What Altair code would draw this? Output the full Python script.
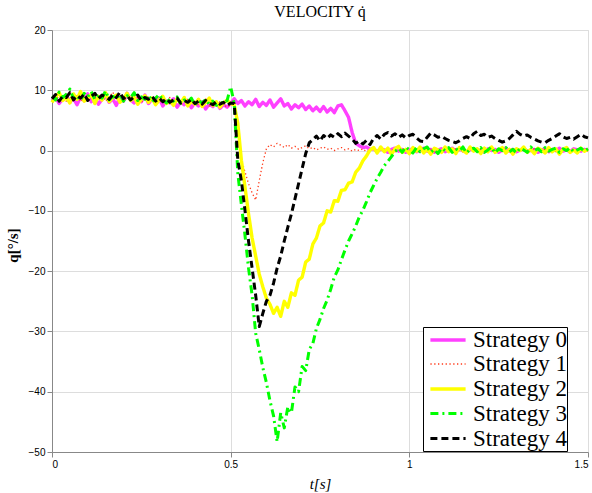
import altair as alt
import pandas as pd

series_names = ["Strategy 0", "Strategy 1", "Strategy 2", "Strategy 3", "Strategy 4"]
series_colors = ["#ff40ff", "#ff3a1a", "#ffff00", "#00ff00", "#000000"]
series_dash = [[1, 0], [1.3, 2.5], [1, 0], [8, 4, 2, 4], [7, 4]]
series_width = [3.4, 1.3, 3.4, 3.0, 3.0]

x_ticks = [0, 0.5, 1, 1.5]
y_ticks = [-50, -40, -30, -20, -10, 0, 10, 20]

# sampled every 0.01 s from 0.00 to 1.50
s0 = [8.2, 8.9, 7.8, 8.6, 9.2, 8.0, 8.7, 7.6, 8.9, 8.3,
      9.4, 8.1, 8.8, 7.7, 8.5, 9.1, 8.0, 8.6, 7.5, 8.9,
      8.2, 9.5, 8.4, 7.9, 8.8, 8.1, 9.2, 7.8, 8.5, 8.0,
      8.7, 7.4, 8.2, 7.9, 8.6, 7.2, 8.0, 7.6, 8.3, 7.1,
      7.9, 7.4, 8.1, 6.9, 7.7, 7.3, 8.0, 7.0, 7.6, 7.2,
      7.8,
      8.6, 7.8, 8.3, 7.4, 8.1, 7.6, 8.5, 7.3, 8.0, 7.5,
      8.4, 7.2, 7.9, 8.6, 7.4, 7.8, 6.9, 7.6, 7.1, 7.7,
      6.8, 7.4, 6.6, 7.2, 6.5, 7.3, 6.4, 7.0, 6.3, 7.4,
      7.6, 6.6, 5.5, 3.0, 1.2, 0.8, 0.5, 0.6, 0.2, 0.3,
      -0.2, 0.3, 0.1, -0.3, 0.2, 0.4, -0.1, 0.2, -0.3, 0.1,
      0.3, -0.2, 0.0, 0.4, -0.1, 0.2, -0.3, 0.1, 0.3, -0.2,
      0.1, 0.4, -0.1, 0.2, 0.0, -0.3, 0.2, 0.3, -0.1, 0.1,
      -0.2, 0.3, 0.0, 0.2, -0.3, 0.1, 0.4, -0.1, 0.2, -0.2,
      0.1, 0.3, -0.1, 0.0, 0.2, -0.3, 0.1, 0.3, -0.2, 0.2,
      0.0, 0.4, -0.1, 0.1, -0.2, 0.3, 0.1, -0.1, 0.2, 0.0]

s1 = [8.8, 8.3, 9.1, 8.6, 8.2, 9.0, 8.5, 9.3, 8.1, 8.7,
      9.2, 8.4, 8.9, 8.6, 9.4, 8.2, 8.8, 9.7, 8.5, 8.9,
      8.3, 8.7, 9.1, 8.4, 8.8, 8.0, 8.6, 9.0, 8.3, 8.7,
      7.9, 8.5, 8.2, 8.8, 7.8, 8.3, 7.6, 8.1, 8.5, 7.7,
      8.2, 7.5, 8.0, 8.6, 7.4, 7.9, 7.3, 8.1, 7.6, 7.2,
      7.7,
      7.5, 3.0, -1.5, -3.5, -5.5, -7.0, -8.2, -5.0, -2.0, 0.3,
      1.0, 0.6, 1.2, 0.9, 0.5, 1.0, 0.4, 0.7, 0.2, 0.5,
      0.8, 0.3, 0.5, 0.1, 0.4, 0.6, 0.2, 0.4, 0.0, 0.3,
      0.5, 0.1, 0.3, -0.1, 0.2, 0.0, 0.3, -0.2, 0.1, 0.2,
      0.0, 0.2, -0.1, 0.1, 0.3, -0.2, 0.0, 0.2, 0.1, -0.1,
      0.2, 0.0, 0.3, -0.1, 0.1, 0.2, -0.2, 0.1, 0.0, 0.2,
      -0.1, 0.1, 0.3, 0.0, -0.2, 0.1, 0.2, -0.1, 0.0, 0.2,
      0.1, -0.1, 0.2, 0.0, 0.1, -0.2, 0.2, 0.1, 0.0, -0.1,
      0.2, 0.1, -0.1, 0.0, 0.3, 0.1, -0.1, 0.2, 0.0, 0.1,
      -0.2, 0.1, 0.2, 0.0, -0.1, 0.1, 0.2, 0.0, 0.1, -0.1]

s2 = [8.0, 8.9, 9.6, 8.3, 8.8, 7.9, 9.4, 8.5, 9.8, 8.2,
      8.7, 9.3, 7.8, 9.0, 8.4, 9.6, 8.1, 8.8, 9.2, 8.0,
      8.6, 9.5, 8.3, 8.9, 7.7, 8.5, 9.1, 8.0, 8.7, 7.6,
      8.4, 9.0, 7.8, 8.3, 7.5, 8.6, 7.9, 8.8, 7.4, 8.2,
      7.7, 8.5, 7.3, 8.0, 8.7, 7.5, 8.1, 7.2, 7.9, 8.4,
      7.8,
      7.6, 4.5, -1.6, -6.0, -10.5, -14.5, -17.5, -20.5, -22.6, -24.5,
      -25.5, -27.0, -26.0, -27.5, -25.0, -26.0, -23.6, -24.0, -21.5, -21.0,
      -18.5, -18.0, -15.5, -14.5, -12.5, -12.0, -10.0, -10.2, -8.3, -8.4,
      -6.6, -6.5, -5.4, -5.2, -3.6, -2.9, -1.7, -0.9, 0.1, 0.5,
      -0.4, 0.6, -0.2, 0.4, -0.6, 0.3, 0.7, -0.3, 0.2, -0.5,
      0.5, -0.1, 0.6, -0.4, 0.2, -0.6, 0.4, 0.1, -0.3, 0.6,
      -0.2, 0.3, -0.5, 0.5, 0.0, -0.4, 0.6, -0.1, 0.3, -0.5,
      0.4, -0.2, 0.6, -0.3, 0.1, 0.5, -0.4, 0.2, -0.6, 0.3,
      0.0, 0.6, -0.3, 0.2, -0.5, 0.4, 0.1, -0.4, 0.5, -0.2,
      0.3, -0.6, 0.2, 0.5, -0.3, 0.1, -0.4, 0.4, -0.1, 0.2]

s3 = [9.0, 8.4, 9.7, 8.8, 9.3, 10.2, 8.6, 9.1, 8.3, 9.5,
      8.9, 9.8, 8.5, 9.2, 8.7, 9.9, 8.4, 9.0, 8.6, 9.4,
      8.2, 9.1, 8.8, 9.6, 8.3, 8.9, 8.5, 9.2, 8.1, 8.7,
      9.3, 8.4, 7.9, 8.6, 8.2, 8.9, 7.8, 8.4, 8.1, 8.7,
      7.6, 8.3, 7.9, 8.5, 7.7, 8.2, 7.5, 8.0, 7.8, 8.3,
      10.6,
      7.8, -3.8, -9.0, -14.0, -19.5, -24.0, -30.3, -33.0, -36.0, -38.5,
      -41.5, -44.0, -48.3, -43.5, -46.0, -42.5, -43.5, -39.2, -40.0, -35.8,
      -36.5, -33.0, -32.0, -29.5, -28.0, -26.2, -24.8, -23.0, -21.0, -19.8,
      -18.1, -16.5, -15.0, -13.8, -12.5, -11.0, -9.9, -8.5, -7.0, -5.8,
      -4.6, -3.6, -2.5, -1.8, -1.0, -0.2, 0.4, -0.3, 0.6,
      0.1, -0.4, 0.5, -0.2, 0.3, 0.6, -0.3, 0.2, -0.5, 0.4,
      0.0, 0.5, -0.3, 0.3, -0.1, 0.6, -0.4, 0.2, 0.4, -0.2,
      0.5, -0.3, 0.1, 0.6, -0.4, 0.3, 0.0, 0.5, -0.2, 0.2,
      -0.4, 0.4, 0.1, -0.3, 0.6, 0.0, 0.3, -0.2, 0.5, -0.1,
      0.2, 0.4, -0.3, 0.3, 0.0, 0.5, -0.2, 0.1, 0.4, -0.1,
      0.3]

s4 = [8.6, 9.3, 8.2, 9.0, 8.8, 9.6, 8.4, 9.1, 8.7, 9.4,
      8.3, 9.0, 9.5, 8.6, 9.2, 8.9, 8.5, 9.3, 8.8, 9.7,
      8.6, 9.1, 8.4, 8.9, 9.2, 8.3, 8.8, 8.5, 9.0, 8.2,
      8.7, 8.1, 8.6, 8.0, 8.4, 8.7, 7.9, 8.3, 8.0, 8.5,
      7.8, 8.2, 7.7, 8.3, 7.9, 7.6, 8.1, 7.7, 8.0, 7.5,
      7.9,
      7.8, -1.6, -5.0, -9.9, -15.0, -19.5, -24.0, -29.2, -27.0, -25.0,
      -24.0, -22.0, -19.5, -17.5, -15.0, -12.7, -10.5, -8.0, -5.5, -3.0,
      -0.5, 1.3, 1.8, 2.4, 1.6, 2.5, 2.0, 2.6, 2.2, 2.8,
      2.3, 2.9, 2.4, 1.9, 1.2, 1.6, 1.1, 1.7, 1.0, 2.0,
      2.5, 1.9, 2.7, 3.0, 2.4, 2.8, 2.2, 2.6, 2.1, 2.5,
      2.7, 2.1, 1.6, 1.5, 2.2, 2.9, 2.6, 2.2, 2.4, 2.0,
      1.7, 1.5, 1.3, 1.6, 2.0, 2.3, 2.0, 2.8, 3.2, 2.5,
      2.7, 2.2, 2.4, 2.0, 1.7, 1.4, 1.6, 2.0, 2.6, 3.2,
      2.7, 2.4, 2.6, 2.2, 1.9, 1.6, 1.4, 1.3, 1.7, 2.0,
      2.4, 2.8, 2.3, 2.0, 2.2, 1.9, 2.3, 2.7, 2.3, 2.1]

all_series = [s0, s1, s2, s3, s4]
for s in all_series:
    assert len(s) == 151, len(s)

rows = []
for name, vals in zip(series_names, all_series):
    for i, v in enumerate(vals):
        rows.append({"t": round(i * 0.01, 2), "q": v, "series": name})
df = pd.DataFrame(rows)

legend_props = dict(
    title=None, orient="none", legendX=371, legendY=297,
    fillColor="white", strokeColor="black", padding=0,
    labelFont="Liberation Serif", labelFontSize=23, labelColor="black",
    symbolType="M-1.6,0H1.6", symbolSize=484, symbolOffset=12,
    rowPadding=0, labelOffset=12,
)

base = alt.Chart(df).mark_line(strokeCap="butt", strokeJoin="round").encode(
    x=alt.X("t:Q", scale=alt.Scale(domain=[0, 1.5], nice=False),
            axis=alt.Axis(values=x_ticks, format="~g", title="t[s]",
                          titleFont="Liberation Serif", titleFontStyle="italic",
                          titleFontSize=15, titleFontWeight="normal",
                          titleY=31, titleBaseline="middle")),
    y=alt.Y("q:Q", scale=alt.Scale(domain=[-50, 20], nice=False),
            axis=alt.Axis(values=y_ticks, format="d", title="q[°/s]",
                          titleFont="Liberation Serif", titleFontSize=15,
                          titleFontWeight="bold", titleX=-40, titleY=215,
                          titleBaseline="middle", titleAngle=-90)),
    color=alt.Color("series:N", scale=alt.Scale(domain=series_names, range=series_colors),
                    legend=alt.Legend(**legend_props)),
    strokeDash=alt.StrokeDash("series:N", scale=alt.Scale(domain=series_names, range=series_dash),
                              legend=alt.Legend(**legend_props)),
    strokeWidth=alt.StrokeWidth("series:N",
                                scale=alt.Scale(type="ordinal", domain=series_names, range=series_width),
                                legend=alt.Legend(**legend_props)),
)

layers = [base.transform_filter(alt.datum.series == n) for n in series_names]

chart = alt.layer(*layers).properties(
    width=536, height=422,
    autosize=alt.AutoSizeParams(type="none"),
    padding={"left": 52, "top": 30, "right": 4, "bottom": 41},
    title=alt.TitleParams("VELOCITY q̇", font="Liberation Serif", fontSize=16,
                          fontWeight="normal", offset=5, anchor="middle", color="black"),
).configure_view(stroke="black", strokeWidth=1).configure_axis(
    grid=True, gridDash=[1, 3], gridColor="#333", gridOpacity=0.8,
    labelFont="Liberation Sans", labelFontSize=11.5, labelColor="black",
    domainColor="black", ticks=False, labelPadding=5, titleColor="black",
).configure(background="white")

chart.save("out.html", embed_options={"renderer": "svg", "actions": False})
